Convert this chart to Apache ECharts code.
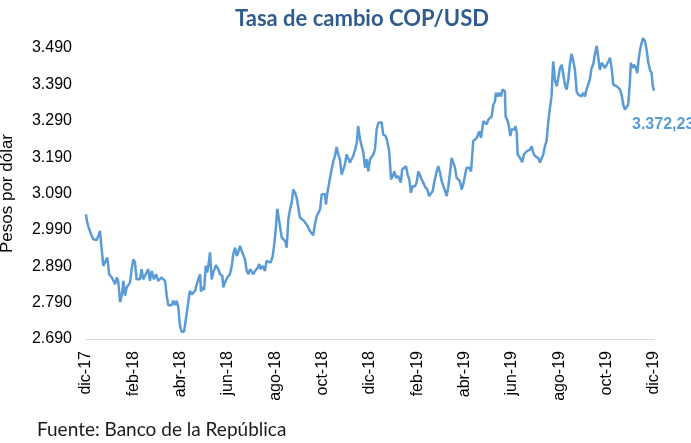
<!DOCTYPE html>
<html>
<head>
<meta charset="utf-8">
<script src="https://cdn.jsdelivr.net/npm/echarts@6/dist/echarts.min.js"></script>
<style>
  html, body { margin: 0; padding: 0; background: #fff; }
  #chart { width: 691px; height: 443px; }
</style>
</head>
<body>
<div id="chart"></div>
<script>
// x position in months counted from dic-17
const monthPos = [
  0, 0.03, 0.10, 0.17, 0.24, 0.31, 0.45, 0.52, 0.59, 0.66, 0.73, 0.80, 0.90, 0.98, 1.09, 1.15, 1.23, 1.30, 1.36, 1.44,
  1.51, 1.58, 1.65, 1.72, 1.79, 1.86, 1.93, 2.00, 2.07, 2.14, 2.21, 2.28, 2.35, 2.42, 2.49, 2.56, 2.63, 2.70, 2.78, 2.87,
  2.96, 3.05, 3.13, 3.20, 3.27, 3.34, 3.41, 3.48, 3.62, 3.69, 3.76, 3.83, 3.90, 3.97, 4.04, 4.14, 4.18,
  4.32, 4.39, 4.47, 4.53, 4.61, 4.68, 4.74, 4.82, 4.86, 4.91, 4.99, 5.06, 5.12, 5.20, 5.24, 5.31, 5.38, 5.49, 5.59, 5.66,
  5.76, 5.80, 5.87, 5.97, 6.08, 6.16, 6.22, 6.30, 6.37, 6.43, 6.51, 6.58, 6.65, 6.72, 6.79, 6.86, 6.93, 7.00, 7.07, 7.14,
  7.24, 7.32, 7.38, 7.47, 7.56, 7.63, 7.70, 7.80, 7.89, 7.96, 8.03, 8.08, 8.14, 8.20,
  8.27, 8.34, 8.41, 8.48, 8.55, 8.62, 8.69, 8.76, 8.83, 8.90, 8.97, 9.04, 9.11, 9.22, 9.32, 9.39, 9.46, 9.54, 9.60, 9.67,
  9.75, 9.81, 9.89, 9.96, 10.03, 10.10, 10.14, 10.19, 10.27, 10.35, 10.45, 10.52, 10.59, 10.66, 10.73, 10.80, 10.87, 10.94, 11.01, 11.08,
  11.15, 11.22, 11.29, 11.37, 11.44, 11.50, 11.58, 11.65, 11.72, 11.79, 11.86, 11.93, 12.00,
  12.07, 12.14, 12.21, 12.28, 12.35, 12.49, 12.56, 12.66, 12.73, 12.81, 12.89, 12.96, 13.03, 13.10, 13.19, 13.30, 13.36, 13.43, 13.52, 13.59,
  13.66, 13.73, 13.80, 13.90, 13.97, 14.04, 14.11, 14.18, 14.25, 14.32, 14.42, 14.50, 14.58, 14.65, 14.71, 14.82, 14.88, 14.96, 15.03, 15.10,
  15.17, 15.24, 15.31, 15.38, 15.45, 15.52, 15.59, 15.66, 15.73, 15.80, 15.87, 15.94, 16.01, 16.08, 16.19,
  16.27, 16.36, 16.43, 16.51, 16.57, 16.62, 16.69, 16.79, 16.86, 16.93, 17.00, 17.07, 17.14, 17.21, 17.28, 17.32, 17.39, 17.46, 17.53, 17.60,
  17.70, 17.73, 17.82, 17.88, 17.93, 17.98, 18.10, 18.15, 18.20, 18.24, 18.34, 18.43, 18.50, 18.62, 18.76, 18.83, 18.90, 18.97, 19.04, 19.11,
  19.18, 19.25, 19.32, 19.39, 19.46, 19.53, 19.60, 19.67, 19.74, 19.81, 19.89, 19.95, 20.03, 20.10, 20.17,
  20.24, 20.31, 20.38, 20.45, 20.52, 20.59, 20.66, 20.73, 20.80, 20.87, 20.94, 21.01, 21.08, 21.15, 21.22, 21.29, 21.36, 21.43, 21.50, 21.58,
  21.64, 21.71, 21.79, 21.85, 21.93, 21.99, 22.07, 22.14, 22.21, 22.28, 22.35, 22.42, 22.49, 22.56, 22.63, 22.70, 22.77, 22.84, 22.91, 22.98,
  23.02, 23.10, 23.15, 23.24, 23.29, 23.35, 23.41, 23.48, 23.54, 23.62, 23.69, 23.75, 23.83, 23.90, 23.94, 24.00
];

// COP per USD
const rate = [
  3033, 3017, 2999, 2996, 2973, 2964, 2962, 2973, 2987, 2985, 2891, 2887, 2914, 2868, 2859, 2862, 2841, 2859, 2850, 2791,
  2809, 2850, 2809, 2832, 2832, 2845, 2882, 2909, 2900, 2854, 2854, 2854, 2882, 2854, 2854, 2873, 2882, 2850, 2877, 2854,
  2868, 2850, 2854, 2859, 2864, 2850, 2809, 2783, 2783, 2795, 2783, 2795, 2777, 2726, 2710, 2710, 2726,
  2791, 2822, 2813, 2809, 2822, 2841, 2845, 2868, 2820, 2832, 2825, 2891, 2873, 2905, 2928, 2854, 2873, 2893, 2882, 2868,
  2864, 2832, 2845, 2859, 2868, 2891, 2923, 2941, 2918, 2928, 2946, 2932, 2928, 2909, 2877, 2868, 2882, 2884, 2868, 2877,
  2884, 2896, 2882, 2891, 2877, 2905, 2900, 2900, 2918, 2955, 3001, 3048, 3024, 3028,
  2969, 2973, 2960, 2941, 3019, 3046, 3065, 3101, 3092, 3079, 3083, 3024, 3024, 3014, 3005, 3001, 2987, 2983, 2975, 3005,
  3028, 3030, 3046, 3088, 3088, 3088, 3060, 3088, 3088, 3147, 3179, 3193, 3218, 3197, 3184, 3142, 3156, 3170, 3197, 3193,
  3175, 3184, 3193, 3211, 3229, 3275, 3238, 3234, 3202, 3161, 3184, 3151, 3184,
  3184, 3197, 3211, 3266, 3284, 3286, 3252, 3248, 3234, 3206, 3129, 3138, 3151, 3133, 3138, 3120, 3156, 3151, 3165, 3142,
  3129, 3092, 3110, 3110, 3120, 3151, 3147, 3129, 3120, 3109, 3101, 3083, 3088, 3097, 3120, 3151, 3165, 3147, 3124, 3110,
  3097, 3083, 3110, 3147, 3188, 3184, 3161, 3133, 3129, 3124, 3101, 3115, 3110, 3161, 3161,
  3151, 3234, 3229, 3243, 3238, 3261, 3243, 3289, 3293, 3280, 3293, 3289, 3302, 3334, 3343, 3367, 3357, 3367, 3357, 3376,
  3371, 3302, 3289, 3271, 3248, 3266, 3266, 3275, 3257, 3197, 3188, 3176, 3197, 3206, 3211, 3220, 3202, 3193, 3197, 3188,
  3175, 3170, 3197, 3220, 3234, 3284, 3325, 3357, 3453, 3403, 3385, 3385, 3435, 3444, 3441,
  3389, 3376, 3403, 3449, 3474, 3453, 3430, 3371, 3362, 3367, 3357, 3367, 3357, 3376, 3380, 3403, 3435, 3444, 3472, 3496,
  3467, 3430, 3449, 3453, 3435, 3440, 3453, 3463, 3435, 3389, 3394, 3385, 3389, 3376, 3362, 3334, 3321, 3325, 3334, 3394,
  3449, 3435, 3444, 3435, 3421, 3458, 3485, 3505, 3517, 3508, 3485, 3453, 3430, 3421, 3389, 3372.23
];

const xTickLabels = ["dic-17", "feb-18", "abr-18", "jun-18", "ago-18", "oct-18", "dic-18",
                     "feb-19", "abr-19", "jun-19", "ago-19", "oct-19", "dic-19"];
const yTicks = [2690, 2790, 2890, 2990, 3090, 3190, 3290, 3390, 3490];

const chart = echarts.init(document.getElementById("chart"));

// 3490 -> "3.490", 3372.23 -> "3.372,23"
function fmtEs(v, dec) {
  const parts = v.toFixed(dec).split(".");
  const intPart = parts[0].replace(/\B(?=(\d{3})+(?!\d))/g, ".");
  return parts[1] ? intPart + "," + parts[1] : intPart;
}

const points = monthPos.map((m, i) => [m, rate[i]]);
const last = points[points.length - 1];

const option = {
  animation: false,
  title: {
    text: "Tasa de cambio COP/USD",
    left: 230,
    top: 3,
    textStyle: { color: "#2E5C8E", fontFamily: "Lato", fontWeight: "bold", fontSize: 22 },
  },
  grid: { left: 86, right: 37, top: 48, bottom: 104, outerBoundsMode: "none" },
  xAxis: {
    type: "value",
    min: 0,
    max: 24,
    interval: 2,
    axisLine: { lineStyle: { color: "#D9D9D9", width: 1 } },
    axisTick: { show: false },
    splitLine: { show: false },
    axisLabel: {
      rotate: 90,
      margin: 12,
      color: "#000",
      fontFamily: "Liberation Sans",
      fontSize: 16,
      formatter: (v) => xTickLabels[Math.round(v / 2)] || "",
    },
  },
  yAxis: {
    type: "value",
    min: 2690,
    max: 3490,
    name: "Pesos por dólar",
    nameLocation: "middle",
    nameGap: 70,
    nameTextStyle: { color: "#000", fontFamily: "Liberation Sans", fontSize: 17 },
    axisLine: { show: false },
    axisTick: { show: false },
    splitLine: { show: false },
    axisLabel: {
      customValues: yTicks,
      margin: 14,
      color: "#000",
      fontFamily: "Liberation Sans",
      fontSize: 16,
      formatter: (v) => fmtEs(v, 0),
    },
  },
  series: [
    {
      type: "line",
      data: points,
      showSymbol: false,
      clip: false,
      lineStyle: { color: "#5B9BD5", width: 2.5 },
      markPoint: {
        symbol: "circle",
        symbolSize: 0,
        data: [{ coord: last }],
        label: {
          show: true,
          position: "inside",
          align: "left",
          verticalAlign: "middle",
          offset: [-22, 34],
          color: "#5B9BD5",
          fontFamily: "Liberation Sans",
          fontWeight: "bold",
          fontSize: 16,
          formatter: () => fmtEs(last[1], 2),
        },
      },
    },
  ],
  graphic: [
    {
      type: "text",
      left: 37,
      top: 420,
      style: { text: "Fuente: Banco de la República", fill: "#1a1a1a", font: "19px Lato" },
    },
  ],
};

chart.setOption(option);
</script>
</body>
</html>
